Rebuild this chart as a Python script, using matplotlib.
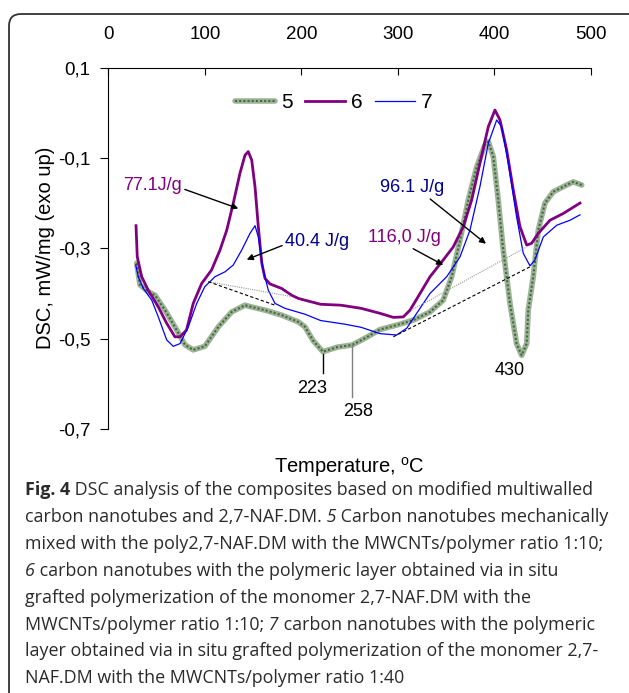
import matplotlib
matplotlib.use("Agg")
import matplotlib.pyplot as plt
from matplotlib.patches import FancyBboxPatch
from matplotlib.transforms import IdentityTransform

plt.rcParams['font.family'] = ['Liberation Sans', 'DejaVu Sans']

# curve 5 (mechanically mixed, 1:10)
t5 = [29.4, 32.8, 41.4, 48.4, 58.7, 69, 79.5, 88, 100, 114, 127.8, 141.6, 148.6, 162.4, 179.6,
      196.9, 203.8, 212, 222.4, 237, 252.7, 266, 281.5, 298.8, 316, 333.3, 347, 355.8, 364.4,
      373, 381.7, 390.3, 393.7, 398.9, 404, 409.2, 416.2, 423, 428.3, 433.5, 435.1, 440.3,
      445.5, 452.4, 461, 474.9, 481.8, 490.5]
d5 = [-0.333, -0.381, -0.396, -0.404, -0.437, -0.474, -0.514, -0.525, -0.517, -0.474, -0.441,
      -0.426, -0.43, -0.437, -0.448, -0.463, -0.474, -0.504, -0.529, -0.519, -0.514, -0.499,
      -0.48, -0.47, -0.459, -0.441, -0.415, -0.363, -0.282, -0.193, -0.12, -0.071, -0.064,
      -0.097, -0.193, -0.304, -0.422, -0.511, -0.537, -0.511, -0.437, -0.363, -0.26, -0.2,
      -0.175, -0.16, -0.153, -0.16]

# curve 6 (grafted, 1:10)
t6 = [28.7, 30, 34.6, 41.4, 51.8, 60.5, 69, 74.3, 81, 88, 96.7, 107, 115.7, 122.7, 129.5,
      136.4, 141.6, 145, 148.6, 152, 155.4, 159, 162.4, 167.5, 179.6, 190, 196.9, 203.8, 220,
      241, 262, 281.5, 295.3, 305.6, 312.6, 323, 333.3, 347, 357.4, 367.8, 376.5, 385, 393.7,
      400.6, 405.8, 412.8, 419.6, 426.5, 433.5, 438.6, 445.5, 457.6, 471.4, 488.7]
d6 = [-0.25, -0.319, -0.363, -0.393, -0.43, -0.466, -0.496, -0.496, -0.481, -0.422, -0.378,
      -0.348, -0.304, -0.26, -0.2, -0.134, -0.094, -0.086, -0.105, -0.164, -0.252, -0.333,
      -0.367, -0.379, -0.389, -0.404, -0.411, -0.415, -0.424, -0.426, -0.433, -0.444, -0.453,
      -0.452, -0.437, -0.4, -0.363, -0.326, -0.297, -0.252, -0.193, -0.112, -0.031, 0.006,
      -0.016, -0.083, -0.171, -0.252, -0.293, -0.289, -0.267, -0.238, -0.223, -0.2]

# curve 7 (grafted, 1:40)
t7 = [28.4, 31, 36.3, 45, 51.8, 60.5, 67.3, 74.3, 82.9, 91.6, 100, 110.5, 121, 129.5, 138.2,
      146.8, 152, 155.4, 160.6, 165.8, 172.7, 183, 203.8, 220, 245, 262, 281.5, 298.8, 309.2,
      319.5, 333.3, 350.6, 364.4, 374.7, 385, 393.7, 402.4, 407.6, 414.4, 423, 429.9, 436.9,
      442, 450.7, 464.6, 478.3, 488.7]
d7 = [-0.337, -0.363, -0.389, -0.415, -0.452, -0.503, -0.517, -0.511, -0.474, -0.422, -0.385,
      -0.363, -0.352, -0.337, -0.304, -0.267, -0.25, -0.275, -0.348, -0.393, -0.422, -0.433,
      -0.446, -0.46, -0.468, -0.475, -0.489, -0.492, -0.477, -0.444, -0.4, -0.363, -0.319,
      -0.26, -0.164, -0.068, -0.016, -0.031, -0.112, -0.23, -0.311, -0.339, -0.326, -0.275,
      -0.249, -0.238, -0.226]

# integration baselines
base6_t = [[103.6, 190], [314, 433.5]]
base6_d = [[-0.374, -0.407], [-0.437, -0.297]]
base7_t = [[103.6, 172.7], [295.3, 437]]
base7_d = [[-0.374, -0.426], [-0.496, -0.341]]

xticks = [0, 100, 200, 300, 400, 500]
yticks = [0.1, -0.1, -0.3, -0.5, -0.7]
ytick_labels = ['0,1', '-0,1', '-0,3', '-0,5', '-0,7']

fig = plt.figure(figsize=(6.29, 6.93), dpi=100)
ax = fig.add_axes([0.1722, 0.381, 0.7672, 0.5215])

l5a, = ax.plot(t5, d5, color='#9db397', lw=4.0, solid_capstyle='round')
l5b, = ax.plot(t5, d5, color='#45683c', lw=1.5, ls=(0, (1, 1)))
l6, = ax.plot(t6, d6, color='#800080', lw=2.0)
l7, = ax.plot(t7, d7, color='#0000ff', lw=0.9)

for bt, bd in zip(base6_t, base6_d):
    ax.plot(bt, bd, color='#999999', lw=0.8, ls=(0, (1, 1)))
for bt, bd in zip(base7_t, base7_d):
    ax.plot(bt, bd, color='black', lw=0.8, ls=(0, (3, 2)))

ax.set_xlim(0, 500)
ax.set_ylim(-0.7, 0.1)
ax.set_xticks(xticks)
ax.set_yticks(yticks, ytick_labels)
ax.xaxis.tick_top()
ax.tick_params(axis='x', direction='in', length=5, pad=18, labelsize=13.5)
ax.tick_params(axis='y', direction='out', length=6, pad=7, labelsize=13.5)
for s in ['bottom', 'right']:
    ax.spines[s].set_visible(False)
ax.set_xlabel('Temperature, $^\\mathregular{o}$C', fontsize=14.5, labelpad=19)
ax.set_ylabel('DSC, mW/mg (exo up)', fontsize=14.5, labelpad=2)

ap = dict(arrowstyle='-|>', color='black', lw=1.0, mutation_scale=9, shrinkA=0, shrinkB=0)
ax.annotate('77.1J/g', xy=(134.7, -0.212), xytext=(15.5, -0.16), color='#800080',
            fontsize=13, va='center', ha='left', arrowprops=dict(ap, relpos=(1, 0.3)))
ax.annotate('40.4 J/g', xy=(143.4, -0.325), xytext=(183, -0.284), color='#00008b',
            fontsize=13, va='center', ha='left', arrowprops=dict(ap, relpos=(0, 0.3)))
ax.annotate('116,0 J/g', xy=(347, -0.337), xytext=(269, -0.276), color='#800080',
            fontsize=13, va='center', ha='left', arrowprops=dict(ap, relpos=(0.55, 0)))
ax.annotate('96.1 J/g', xy=(391.3, -0.29), xytext=(282, -0.166), color='#00008b',
            fontsize=13, va='center', ha='left', arrowprops=dict(ap, relpos=(0.72, 0)))

ax.plot([222.8, 222.8], [-0.533, -0.577], color='black', lw=1.0)
ax.plot([252.5, 252.5], [-0.511, -0.629], color='#808080', lw=1.0)
ax.text(211, -0.61, '223', fontsize=13, ha='center', va='center')
ax.text(259, -0.662, '258', fontsize=13, ha='center', va='center')
ax.text(415.6, -0.571, '430', fontsize=13, ha='center', va='center')

leg = ax.legend([(l5a, l5b), l6, l7], ['5', '6', '7'], loc='center',
                bbox_to_anchor=(0.531, 0.852), bbox_transform=fig.transFigure,
                ncol=3, frameon=False, fontsize=15, handlelength=1.9,
                handletextpad=0.3, columnspacing=0.6)

# outer frame
frame = FancyBboxPatch((9, -30), 700, 693 - 14 + 30, boxstyle='round,pad=0,rounding_size=12',
                       transform=IdentityTransform(), fill=False, ec='#333333', lw=1.3)
fig.patches.append(frame)

# caption, pieces placed one after the other so italics and bold can be mixed
cap_font = ['Open Sans', 'DejaVu Sans']
cap_lines = [
    [('Fig. 4', 'bold', 'normal'), (' DSC analysis of the composites based on modified multiwalled', 'normal', 'normal')],
    [('carbon nanotubes and 2,7-NAF.DM.', 'normal', 'normal'), (' 5', 'normal', 'italic'),
     (' Carbon nanotubes mechanically', 'normal', 'normal')],
    [('mixed with the poly2,7-NAF.DM with the MWCNTs/polymer ratio 1:10;', 'normal', 'normal')],
    [('6', 'normal', 'italic'), (' carbon nanotubes with the polymeric layer obtained via in situ', 'normal', 'normal')],
    [('grafted polymerization of the monomer 2,7-NAF.DM with the', 'normal', 'normal')],
    [('MWCNTs/polymer ratio 1:10;', 'normal', 'normal'), (' 7', 'normal', 'italic'),
     (' carbon nanotubes with the polymeric', 'normal', 'normal')],
    [('layer obtained via in situ grafted polymerization of the monomer 2,7-', 'normal', 'normal')],
    [('NAF.DM with the MWCNTs/polymer ratio 1:40', 'normal', 'normal')],
]
renderer = fig.canvas.get_renderer()
y0 = 1 - 495 / 693
dy = 26.9 / 693
for i, segs in enumerate(cap_lines):
    x = 25 / 629
    for txt, w, st in segs:
        t = fig.text(x, y0 - i * dy, txt, fontsize=12.9, family=cap_font, weight=w,
                     style=st, color='#2b2b2b', va='baseline', ha='left')
        x = t.get_window_extent(renderer).x1 / fig.bbox.width

fig.savefig('out.png', dpi=100)
